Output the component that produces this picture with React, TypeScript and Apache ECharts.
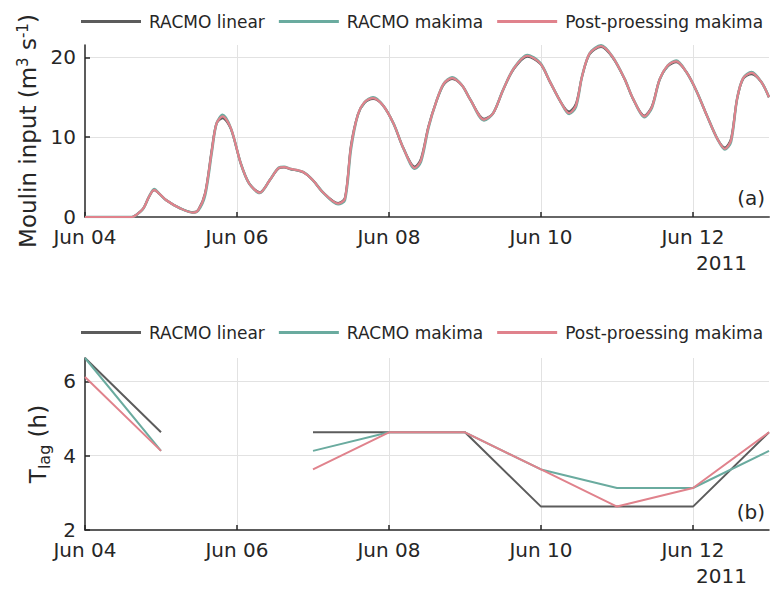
import React, { useEffect, useRef } from 'react';
import * as echarts from 'echarts';

const seriesNames = ['RACMO linear', 'RACMO makima', 'Post-proessing makima'];
const seriesColors = ['#5c5c5c', '#6aab9f', '#e0828c'];

// Day of June 2011 (fractional)
const topDays = [
  4.0, 4.25, 4.5, 4.62, 4.68, 4.77, 4.84, 4.91, 4.98, 5.07, 5.25, 5.42, 5.49, 5.58, 5.67, 5.73, 5.81, 5.92,
  6.05, 6.16, 6.3, 6.43, 6.55, 6.62, 6.7, 6.87, 7.0, 7.13, 7.33, 7.42, 7.5, 7.59, 7.68, 7.79, 7.92,
  8.06, 8.19, 8.34, 8.42, 8.52, 8.62, 8.72, 8.83, 8.96, 9.07, 9.25, 9.37, 9.5, 9.64, 9.82, 9.99,
  10.12, 10.26, 10.37, 10.46, 10.54, 10.64, 10.79, 10.94, 11.1, 11.21, 11.36, 11.46, 11.56, 11.67, 11.78, 11.91,
  12.04, 12.19, 12.32, 12.42, 12.5, 12.58, 12.66, 12.77, 12.9, 13.0,
];
const topLinear = [
  0, 0, 0, 0, 0.3, 1.1, 2.5, 3.35, 2.9, 2.1, 1.1, 0.6, 0.9, 3.0, 8.6, 11.7, 12.4, 11.0,
  6.7, 4.2, 3.1, 4.6, 6.1, 6.2, 6.0, 5.6, 4.6, 3.1, 1.75, 2.4, 9.0, 12.8, 14.3, 14.8, 14.0,
  11.7, 8.6, 6.3, 7.3, 11.4, 14.4, 16.6, 17.3, 16.5, 14.7, 12.3, 13.0, 15.9, 18.5, 20.1, 19.2,
  16.9, 14.4, 13.2, 14.2, 17.6, 20.4, 21.3, 20.0, 17.3, 14.8, 12.7, 13.9, 17.2, 18.9, 19.4, 18.2,
  15.9, 12.55, 9.8, 8.7, 9.8, 14.8, 17.3, 17.9, 16.9, 15.0,
];
const topMakima = [
  0, 0, 0, 0, 0.3, 1.1, 2.5, 3.5, 2.9, 2.1, 1.1, 0.55, 0.8, 2.7, 8.2, 11.7, 12.8, 11.1,
  6.7, 4.2, 3.0, 4.6, 6.2, 6.3, 6.05, 5.65, 4.6, 3.1, 1.6, 2.1, 8.5, 12.8, 14.4, 15.0, 14.0,
  11.7, 8.6, 6.05, 6.9, 11.2, 14.4, 16.7, 17.5, 16.5, 14.7, 12.1, 13.0, 15.9, 18.6, 20.3, 19.3,
  16.9, 14.4, 12.9, 13.8, 17.6, 20.5, 21.5, 20.1, 17.3, 14.85, 12.5, 13.7, 17.2, 19.0, 19.6, 18.2,
  15.9, 12.55, 9.8, 8.45, 9.4, 14.8, 17.4, 18.15, 16.9, 15.0,
];
const topPost = [
  0, 0, 0, 0, 0.3, 1.1, 2.5, 3.4, 2.9, 2.1, 1.1, 0.55, 0.85, 2.9, 8.4, 11.7, 12.6, 11.1,
  6.7, 4.2, 3.05, 4.6, 6.15, 6.25, 6.05, 5.65, 4.6, 3.1, 1.68, 2.3, 8.8, 12.8, 14.4, 14.9, 14.0,
  11.7, 8.6, 6.15, 7.1, 11.3, 14.4, 16.7, 17.4, 16.5, 14.7, 12.2, 13.0, 15.9, 18.6, 20.2, 19.25,
  16.9, 14.4, 13.0, 14.0, 17.6, 20.5, 21.4, 20.1, 17.3, 14.85, 12.6, 13.8, 17.2, 19.0, 19.5, 18.2,
  15.9, 12.55, 9.8, 8.55, 9.6, 14.8, 17.4, 18.05, 16.9, 15.0,
];

const lagDays = [4, 5, 6, 7, 8, 9, 10, 11, 12, 13];
const lagLinear = [6.63, 4.63, null, 4.63, 4.63, 4.63, 2.63, 2.63, 2.63, 4.63];
const lagMakima = [6.63, 4.13, null, 4.13, 4.63, 4.63, 3.63, 3.13, 3.13, 4.13];
const lagPost = [6.12, 4.13, null, 3.63, 4.63, 4.63, 3.63, 2.63, 3.13, 4.63];

const FONT = 'DejaVu Sans';
const TXT = '#262626';

function pairs(xs: number[], ys: (number | null)[]) {
  return xs.map((x, i) => [x, ys[i] === null ? '-' : ys[i]]);
}

export default function App() {
  const ref = useRef<HTMLDivElement>(null);
  useEffect(() => {
    if (!ref.current) return;
    const chart = echarts.init(ref.current, undefined, { renderer: 'svg' });
    const xLabelFmt = (v: number) => 'Jun ' + (v < 10 ? '0' : '') + v;
    const xAxisBase = (gridIndex: number, lineColor: string, lineWidth: number) => ({
      type: 'value',
      gridIndex,
      min: 4,
      max: 13,
      interval: 2,
      axisLine: { show: true, onZero: false, lineStyle: { color: lineColor, width: lineWidth } },
      axisTick: { show: true, inside: true, length: 5, lineStyle: { color: TXT, width: 1.5 } },
      axisLabel: {
        show: true,
        formatter: xLabelFmt,
        fontSize: 20,
        fontFamily: FONT,
        color: TXT,
        margin: 10,
        showMaxLabel: false,
      },
      splitLine: { show: true, showMinLine: false, showMaxLine: false, lineStyle: { color: '#e2e2e2', width: 1 } },
    });
    const yAxisBase = (gridIndex: number, min: number, max: number, name: string, rich: any, nameGap: number) => ({
      type: 'value',
      gridIndex,
      min,
      max,
      interval: 2 * (gridIndex === 0 ? 5 : 1),
      name,
      nameLocation: 'middle',
      nameRotate: 90,
      nameGap,
      nameTextStyle: { rich },
      axisLine: { show: true, lineStyle: { color: TXT, width: 1.5 } },
      axisTick: { show: true, inside: true, length: 5, lineStyle: { color: TXT, width: 1.5 } },
      axisLabel: {
        fontSize: 20,
        fontFamily: FONT,
        color: TXT,
        margin: 9,
        showMaxLabel: false,
      },
      splitLine: { show: true, showMinLine: false, showMaxLine: false, lineStyle: { color: '#e2e2e2', width: 1 } },
    });
    const richTop = {
      n: { fontSize: 23, fontFamily: FONT, color: TXT },
      s: { fontSize: 15, fontFamily: FONT, color: TXT, verticalAlign: 'top', padding: [0, 0, 10, 0] },
    };
    const richBot = {
      n: { fontSize: 23, fontFamily: FONT, color: TXT },
      b: { fontSize: 16, fontFamily: FONT, color: TXT, verticalAlign: 'bottom', padding: [12, 0, 0, 0] },
    };
    const legendBase = (top: number) => ({
      top,
      left: 76,
      width: 700,
      orient: 'horizontal',
      icon: 'rect',
      itemWidth: 60,
      itemHeight: 3,
      itemGap: 14,
      data: seriesNames,
      textStyle: { fontSize: 17, fontFamily: FONT, color: TXT, padding: [0, 0, 0, 3] },
    });
    const topSets = [topLinear, topMakima, topPost];
    const lagSets = [lagLinear, lagMakima, lagPost];
    const series: any[] = [];
    seriesNames.forEach((name, i) => {
      series.push({
        name,
        type: 'line',
        xAxisIndex: 0,
        yAxisIndex: 0,
        data: pairs(topDays, topSets[i]),
        symbol: 'none',
        smooth: 0.3,
        lineStyle: { color: seriesColors[i], width: i === 1 ? 2.6 : 2.2 },
        itemStyle: { color: seriesColors[i] },
        z: 2 + i,
      });
    });
    seriesNames.forEach((name, i) => {
      series.push({
        name,
        type: 'line',
        xAxisIndex: 1,
        yAxisIndex: 1,
        data: pairs(lagDays, lagSets[i]),
        symbol: 'none',
        connectNulls: false,
        lineStyle: { color: seriesColors[i], width: 2 },
        itemStyle: { color: seriesColors[i] },
        z: 2 + i,
      });
    });
    chart.setOption({
      animation: false,
      backgroundColor: '#ffffff',
      legend: [legendBase(8), legendBase(319)],
      grid: [
        { left: 85, width: 684, top: 45, height: 172 },
        { left: 85, width: 684, top: 358, height: 172 },
      ],
      xAxis: [xAxisBase(0, '#666666', 2), xAxisBase(1, TXT, 1.5)],
      yAxis: [
        yAxisBase(0, 0, 21.55, '{n|Moulin input (m}{s|3}{n| s}{s|-1}{n|)}', richTop, 25),
        yAxisBase(1, 2, 6.63, '{n|T}{b|lag}{n| (h)}', richBot, 28),
      ],
      graphic: [
        { type: 'text', right: 5, top: 188, style: { text: '(a)', fontSize: 20, fontFamily: FONT, fill: TXT } },
        { type: 'text', right: 5, top: 502, style: { text: '(b)', fontSize: 20, fontFamily: FONT, fill: TXT } },
        { type: 'text', left: 696, top: 253, style: { text: '2011', fontSize: 20, fontFamily: FONT, fill: TXT } },
        { type: 'text', left: 696, top: 566, style: { text: '2011', fontSize: 20, fontFamily: FONT, fill: TXT } },
      ],
      series,
    });
    return () => chart.dispose();
  }, []);
  return <div ref={ref} style={{ position: 'fixed', left: 0, top: 0, width: 770, height: 589 }} />;
}
